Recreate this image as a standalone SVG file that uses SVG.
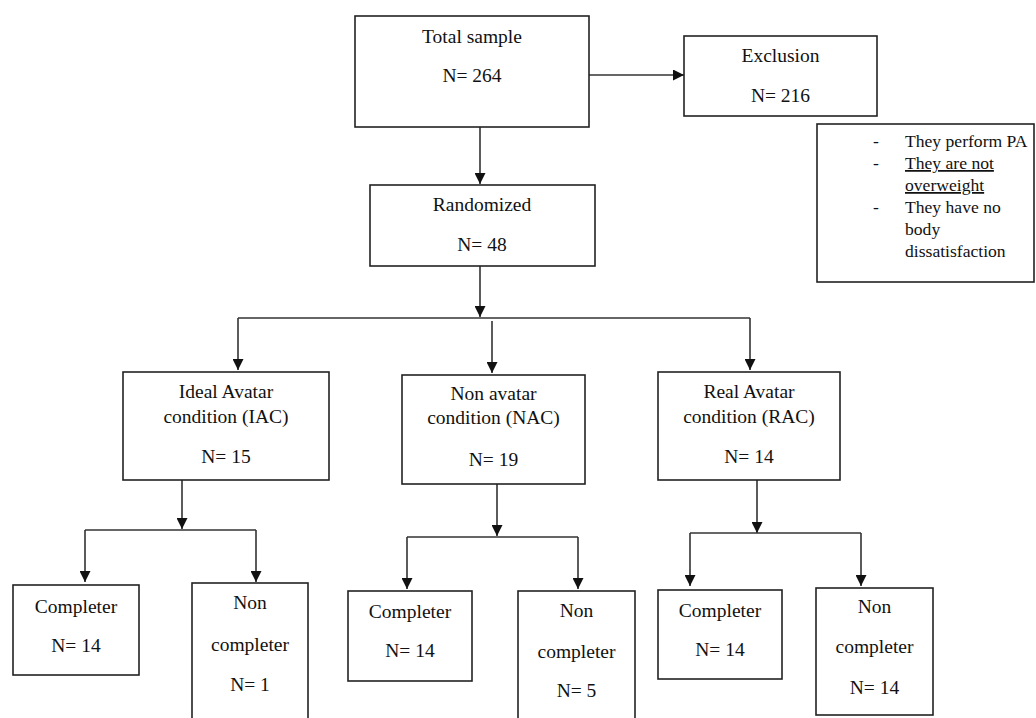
<svg xmlns="http://www.w3.org/2000/svg" width="1036" height="718" viewBox="0 0 1036 718">
<defs>
<marker id="ah" markerUnits="userSpaceOnUse" markerWidth="11" markerHeight="11" refX="11" refY="5.5" orient="auto">
<path d="M0,0 L11,5.5 L0,11 z" fill="#111"/>
</marker>
<style>
.box{fill:#fff;stroke:#222;stroke-width:1.6}
.t{font-family:"Liberation Serif","Times New Roman",serif;font-size:19.5px;fill:#111;text-anchor:middle}
.c{font-family:"Liberation Serif","Times New Roman",serif;font-size:17.6px;fill:#111}
.ln{fill:none;stroke:#333;stroke-width:1.6}
.ar{fill:none;stroke:#333;stroke-width:1.6;marker-end:url(#ah)}
</style>
</defs>
<rect width="1036" height="718" fill="#fff"/>
<g id="connectors">
<line class="ar" x1="589" y1="75" x2="684" y2="75"/>
<line class="ar" x1="480" y1="127" x2="480" y2="184"/>
<line class="ar" x1="480" y1="266" x2="480" y2="317"/>
<line class="ln" x1="238" y1="318" x2="750" y2="318"/>
<line class="ar" x1="238" y1="318" x2="238" y2="370"/>
<line class="ar" x1="492" y1="321" x2="492" y2="373"/>
<line class="ar" x1="750" y1="318" x2="750" y2="370"/>
<line class="ar" x1="182" y1="480" x2="182" y2="529"/>
<line class="ln" x1="85" y1="530" x2="256" y2="530"/>
<line class="ar" x1="85" y1="530" x2="85" y2="582"/>
<line class="ar" x1="256" y1="530" x2="256" y2="582"/>
<line class="ar" x1="497" y1="484" x2="497" y2="536"/>
<line class="ln" x1="407" y1="537" x2="578" y2="537"/>
<line class="ar" x1="407" y1="537" x2="407" y2="589"/>
<line class="ar" x1="578" y1="537" x2="578" y2="589"/>
<line class="ar" x1="757" y1="480" x2="757" y2="533"/>
<line class="ln" x1="690" y1="533" x2="861" y2="533"/>
<line class="ar" x1="690" y1="533" x2="690" y2="586"/>
<line class="ar" x1="861" y1="533" x2="861" y2="586"/>
</g>
<g id="total">
<rect class="box" x="355" y="16" width="234" height="111"/>
<text class="t" x="472" y="43">Total sample</text>
<text class="t" x="472" y="82">N= 264</text>
</g>
<g id="exclusion">
<rect class="box" x="684" y="36" width="193" height="80"/>
<text class="t" x="780.5" y="62">Exclusion</text>
<text class="t" x="780.5" y="102">N= 216</text>
</g>
<g id="criteria">
<rect class="box" x="817" y="124" width="217" height="158"/>
<text class="c" x="873" y="147">-</text>
<text class="c" x="905" y="147">They perform PA</text>
<text class="c" x="873" y="169">-</text>
<text class="c" x="905" y="169" text-decoration="underline">They are not</text>
<text class="c" x="905" y="191" text-decoration="underline">overweight</text>
<text class="c" x="873" y="213">-</text>
<text class="c" x="905" y="213">They have no</text>
<text class="c" x="905" y="235">body</text>
<text class="c" x="905" y="257">dissatisfaction</text>
</g>
<g id="randomized">
<rect class="box" x="370" y="185" width="225" height="81"/>
<text class="t" x="482" y="211">Randomized</text>
<text class="t" x="482" y="251">N= 48</text>
</g>
<g id="iac">
<rect class="box" x="123" y="372" width="206" height="108"/>
<text class="t" x="226" y="398">Ideal Avatar</text>
<text class="t" x="226" y="423">condition (IAC)</text>
<text class="t" x="226" y="463">N= 15</text>
</g>
<g id="nac">
<rect class="box" x="402" y="375" width="183" height="109"/>
<text class="t" x="493.5" y="400">Non avatar</text>
<text class="t" x="493.5" y="424">condition (NAC)</text>
<text class="t" x="493.5" y="466">N= 19</text>
</g>
<g id="rac">
<rect class="box" x="658" y="372" width="182" height="108"/>
<text class="t" x="749" y="398">Real Avatar</text>
<text class="t" x="749" y="423">condition (RAC)</text>
<text class="t" x="749" y="463">N= 14</text>
</g>
<g id="iac-completer">
<rect class="box" x="13" y="585" width="126" height="90"/>
<text class="t" x="76" y="613">Completer</text>
<text class="t" x="76" y="652">N= 14</text>
</g>
<g id="iac-noncompleter">
<rect class="box" x="192" y="583" width="116" height="145"/>
<text class="t" x="250" y="609">Non</text>
<text class="t" x="250" y="651">completer</text>
<text class="t" x="250" y="691">N= 1</text>
</g>
<g id="nac-completer">
<rect class="box" x="348" y="591" width="124" height="90"/>
<text class="t" x="410" y="618">Completer</text>
<text class="t" x="410" y="657">N= 14</text>
</g>
<g id="nac-noncompleter">
<rect class="box" x="518" y="591" width="117" height="140"/>
<text class="t" x="576.5" y="617">Non</text>
<text class="t" x="576.5" y="658">completer</text>
<text class="t" x="576.5" y="697">N= 5</text>
</g>
<g id="rac-completer">
<rect class="box" x="658" y="590" width="124" height="89"/>
<text class="t" x="720" y="617">Completer</text>
<text class="t" x="720" y="656">N= 14</text>
</g>
<g id="rac-noncompleter">
<rect class="box" x="816" y="588" width="117" height="127"/>
<text class="t" x="874.5" y="613">Non</text>
<text class="t" x="874.5" y="653">completer</text>
<text class="t" x="874.5" y="694">N= 14</text>
</g>
</svg>
